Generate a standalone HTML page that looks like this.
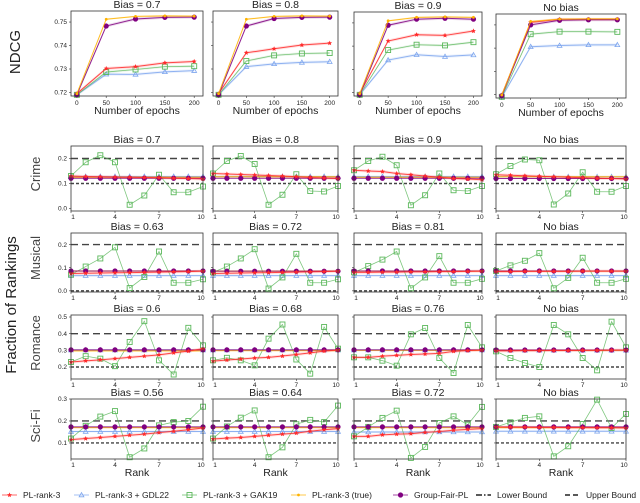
<!DOCTYPE html>
<html><head><meta charset="utf-8"><style>
body{margin:0;background:#fff;}
svg{display:block;font-family:"Liberation Sans","DejaVu Sans",sans-serif;}
</style></head><body>
<svg id="chart" width="640" height="503" viewBox="0 0 640 503" xmlns="http://www.w3.org/2000/svg"></svg>
<script>
// ---------- DATA ----------
const epochs=[0,50,100,150,200];
const ndcgTitles=["Bias = 0.7","Bias = 0.8","Bias = 0.9","No bias"];
const ndcgTicks=[0.72,0.73,0.74,0.75];
const ndcgRed=[[0.7195,0.7302,0.7310,0.7326,0.7332],[0.7195,0.7369,0.7386,0.7402,0.7410],[0.7195,0.7422,0.7449,0.7446,0.7465],[0.7198,0.7511,0.7524,0.7524,0.7524]];
const ndcgBlue=[[0.719,0.7278,0.7277,0.7288,0.7293],[0.719,0.7310,0.7322,0.7328,0.7331],[0.719,0.7340,0.7363,0.7355,0.7362],[0.7188,0.7406,0.7411,0.7414,0.7414]];
const ndcgGreen=[[0.719,0.7287,0.7298,0.7310,0.7312],[0.719,0.7334,0.7358,0.7366,0.7368],[0.719,0.7383,0.7406,0.7403,0.7417],[0.7190,0.7460,0.7471,0.7471,0.7470]];
const ndcgOrange=[[0.7195,0.7512,0.7524,0.7526,0.7525],[0.7195,0.7512,0.7524,0.7526,0.7525],[0.7195,0.7509,0.7524,0.7526,0.7524],[0.7198,0.7515,0.7525,0.7526,0.7526]];
const ndcgPurple=[[0.719,0.7483,0.7513,0.7520,0.7521],[0.719,0.7483,0.7515,0.7520,0.7521],[0.719,0.7490,0.7516,0.7520,0.7516],[0.7195,0.7500,0.7520,0.7522,0.7522]];

const ranks=[1,2,3,4,5,6,7,8,9,10];
const genres=["Crime","Musical","Romance","Sci-Fi"];
const rankTitles=[["Bias = 0.7","Bias = 0.8","Bias = 0.9","No bias"],["Bias = 0.63","Bias = 0.72","Bias = 0.81","No bias"],["Bias = 0.6","Bias = 0.68","Bias = 0.76","No bias"],["Bias = 0.56","Bias = 0.64","Bias = 0.72","No bias"]];
const genreTicks=[[0.0,0.1,0.2],[0.0,0.1,0.2],[0.2,0.3,0.4,0.5],[0.1,0.2,0.3]];
const upperBound=[0.2,0.2,0.4,0.2];
const lowerBound=[0.1,0.0,0.2,0.1];
const greenCrime=[[0.13,0.185,0.213,0.185,0.015,0.052,0.135,0.065,0.065,0.088],[0.14,0.19,0.21,0.178,0.015,0.055,0.137,0.07,0.068,0.09],[0.153,0.19,0.207,0.173,0.013,0.053,0.14,0.073,0.07,0.09],[0.137,0.17,0.196,0.193,0.016,0.06,0.145,0.067,0.067,0.09]];
const greenMusical=[[0.07,0.105,0.14,0.188,0.012,0.06,0.17,0.035,0.035,0.05],[0.08,0.105,0.14,0.18,0.01,0.058,0.16,0.035,0.035,0.05],[0.08,0.107,0.135,0.17,0.011,0.058,0.15,0.035,0.035,0.052],[0.086,0.11,0.13,0.163,0.011,0.056,0.143,0.035,0.035,0.052]];
const greenRomance=[[0.23,0.265,0.25,0.205,0.35,0.475,0.24,0.155,0.435,0.33],[0.24,0.255,0.24,0.21,0.37,0.455,0.245,0.16,0.44,0.31],[0.258,0.258,0.238,0.208,0.396,0.434,0.254,0.164,0.452,0.318],[0.294,0.254,0.224,0.2,0.452,0.396,0.254,0.18,0.472,0.318]];
const greenSciFi=[[0.12,0.178,0.22,0.245,0.035,0.075,0.18,0.195,0.2,0.265],[0.12,0.175,0.215,0.248,0.035,0.08,0.185,0.205,0.195,0.27],[0.13,0.173,0.214,0.247,0.032,0.082,0.191,0.221,0.183,0.264],[0.173,0.194,0.214,0.221,0.039,0.085,0.186,0.297,0.168,0.232]];
const redCrime=[[0.13,0.128,0.127,0.126,0.125,0.124,0.123,0.121,0.12,0.118],[0.14,0.138,0.136,0.134,0.132,0.13,0.127,0.124,0.122,0.12],[0.153,0.15,0.148,0.14,0.135,0.13,0.125,0.12,0.118,0.115],[0.135,0.133,0.131,0.129,0.127,0.125,0.123,0.121,0.12,0.118]];
const redMusical=[[0.075,0.076,0.077,0.078,0.079,0.08,0.081,0.082,0.083,0.085],[0.075,0.076,0.077,0.078,0.079,0.08,0.081,0.082,0.083,0.085],[0.08,0.08,0.081,0.081,0.082,0.082,0.083,0.083,0.084,0.085],[0.083,0.083,0.084,0.084,0.084,0.084,0.085,0.085,0.085,0.085]];
const redRomance=[[0.23,0.237,0.243,0.25,0.258,0.265,0.273,0.285,0.295,0.31],[0.235,0.242,0.248,0.254,0.258,0.266,0.275,0.285,0.295,0.302],[0.258,0.258,0.265,0.27,0.275,0.278,0.282,0.294,0.298,0.302],[0.297,0.297,0.298,0.298,0.299,0.299,0.3,0.3,0.301,0.302]];
const redSciFi=[[0.115,0.12,0.125,0.13,0.135,0.14,0.147,0.153,0.16,0.168],[0.118,0.122,0.125,0.13,0.135,0.14,0.145,0.153,0.16,0.165],[0.13,0.13,0.137,0.14,0.142,0.148,0.152,0.158,0.162,0.165],[0.173,0.172,0.172,0.171,0.171,0.17,0.17,0.169,0.169,0.168]];
const blueLevel=[[0.128,0.128,0.128,0.127],[0.066,0.066,0.066,0.066],[0.302,0.302,0.302,0.3],[0.152,0.152,0.15,0.153]];
const orangeLevel=[[0.125,0.127,0.125,0.127],[0.086,0.085,0.085,0.085],[0.297,0.298,0.3,0.3],[0.17,0.17,0.17,0.17]];
const purpleLevel=[[0.121,0.121,0.121,0.12],[0.086,0.085,0.086,0.086],[0.303,0.303,0.303,0.302],[0.173,0.173,0.173,0.173]];

// ---------- LAYOUT ----------
const C={red:"#ff2a2a",blue:"#7ea6ee",green:"#5cb85c",orange:"#ffb300",purple:"#800080"};
const svg=document.getElementById('chart');
const NS="http://www.w3.org/2000/svg";
function mk(tag,attrs,parent){const e=document.createElementNS(NS,tag);for(const k in attrs)e.setAttribute(k,attrs[k]);(parent||svg).appendChild(e);return e;}
function txt(x,y,s,size,anchor,parent,extra){const t=mk('text',Object.assign({x:x,y:y,'font-size':size,'text-anchor':anchor||'middle',fill:'#222'},extra||{}),parent);t.textContent=s;return t;}
const cols=[[71,203],[213,338],[354,482],[496,626]];
const ndcgRows=[[11,96],[11,96],[12,96],[14,98]];
const rankRows=[[146,211],[233,292],[315,379],[399,459]];
const genreLim=[[-0.01,0.25],[-0.005,0.25],[0.128,0.512],[0.027,0.3]];

function star(g,x,y,r,color){let p=[];for(let i=0;i<10;i++){const a=-Math.PI/2+i*Math.PI/5;const rr=i%2?r*0.45:r;p.push((x+rr*Math.cos(a)).toFixed(1)+','+(y+rr*Math.sin(a)).toFixed(1));}return mk('polygon',{points:p.join(' '),fill:color},g);}
function marker(g,kind,x,y){
  if(kind==='red')return star(g,x,y,2.6,C.red);
  if(kind==='blue')return mk('polygon',{points:`${x},${y-2.4} ${x-2.4},${y+1.8} ${x+2.4},${y+1.8}`,fill:'none',stroke:C.blue,'stroke-width':0.8},g);
  if(kind==='green')return mk('rect',{x:x-2.5,y:y-2.5,width:5,height:5,fill:'none',stroke:C.green,'stroke-width':0.9},g);
  if(kind==='orange')return mk('circle',{cx:x,cy:y,r:1.4,fill:C.orange},g);
  if(kind==='purple')return mk('circle',{cx:x,cy:y,r:2.6,fill:C.purple},g);
}
function series(g,name,xs,ys,X,Y,kind,band){
  const sg=mk('g',{},g);
  
  
  const pts=xs.map((x,i)=>[X(x),Y(ys[i])]);
  if(band){const up=pts.map(p=>p[0]+','+(p[1]-band)).join(' ');const dn=pts.slice().reverse().map(p=>p[0]+','+(p[1]+band)).join(' ');mk('polygon',{points:up+' '+dn,fill:C[kind],opacity:0.15},sg);}
  mk('polyline',{points:pts.map(p=>p.join(',')).join(' '),fill:'none',stroke:C[kind],'stroke-width':kind==='green'?0.8:1,opacity:kind==='green'?0.8:0.85},sg);
  pts.forEach(p=>marker(sg,kind,p[0],p[1]));
}

// ---------- NDCG ROW ----------
for(let c=0;c<4;c++){
  const [x0,x1]=cols[c],[y0,y1]=ndcgRows[c];
  const g=mk('g',{});
  
  
  const X=v=>x0+(v+10)/225*(x1-x0);
  const Y=v=>y1-(v-0.7185)/(0.7547-0.7185)*(y1-y0);
  txt((x0+x1)/2,y0-3,ndcgTitles[c],10.5,'middle',g);
  ndcgTicks.forEach(t=>{const yy=Y(t);mk('line',{x1:x0-2,x2:x0,y1:yy,y2:yy,stroke:'#333','stroke-width':0.6},g);if(c===0)txt(x0-4,yy+2.2,t.toFixed(2),6.5,'end',g);});
  epochs.forEach(e=>{const xx=X(e);mk('line',{x1:xx,x2:xx,y1:y1,y2:y1+2,stroke:'#333','stroke-width':0.6},g);txt(xx,y1+9,String(e),6.5,'middle',g);});
  series(g,'ndcg-gdl22',epochs,ndcgBlue[c],X,Y,'blue',1.5);
  series(g,'ndcg-gak19',epochs,ndcgGreen[c],X,Y,'green',1.2);
  series(g,'ndcg-pl-rank-3',epochs,ndcgRed[c],X,Y,'red',1.5);
  series(g,'ndcg-group-fair-pl',epochs,ndcgPurple[c],X,Y,'purple',1.5);
  series(g,'ndcg-pl-rank-3-true',epochs,ndcgOrange[c],X,Y,'orange',0.8);
  mk('rect',{x:x0,y:y0,width:x1-x0,height:y1-y0,fill:'none',stroke:'#333','stroke-width':0.8},g);
  txt((x0+x1)/2,y1+18,'Number of epochs',10.5,'middle',g);
}

// ---------- RANK GRID ----------
const greens=[greenCrime,greenMusical,greenRomance,greenSciFi];
const reds=[redCrime,redMusical,redRomance,redSciFi];
for(let r=0;r<4;r++)for(let c=0;c<4;c++){
  const [x0,x1]=cols[c],[y0,y1]=rankRows[r],[lo,hi]=genreLim[r];
  const g=mk('g',{});
  
  
  const X=v=>x0+(v-1)/9*(x1-x0);
  const Y=v=>y1-(v-lo)/(hi-lo)*(y1-y0);
  txt((x0+x1)/2,y0-3,rankTitles[r][c],10.5,'middle',g);
  genreTicks[r].forEach(t=>{const yy=Y(t);mk('line',{x1:x0-2,x2:x0,y1:yy,y2:yy,stroke:'#333','stroke-width':0.6},g);if(c===0)txt(x0-4,yy+2.2,t.toFixed(1),6.5,'end',g);});
  [1,4,7,10].forEach(k=>{const xx=X(k);mk('line',{x1:xx,x2:xx,y1:y1,y2:y1+2,stroke:'#333','stroke-width':0.6},g);txt(xx+(k===1?2:k===10?-2:0),y1+8,String(k),6.5,'middle',g);});
  const ub=mk('line',{x1:x0,x2:x1,y1:Y(upperBound[r]),y2:Y(upperBound[r]),stroke:'#444','stroke-width':1.4,'stroke-dasharray':'7,4'},g);
  
  
  const lb=mk('line',{x1:x0,x2:x1,y1:Y(lowerBound[r]),y2:Y(lowerBound[r]),stroke:'#444','stroke-width':1.4,'stroke-dasharray':'3,2'},g);
  
  
  const cg=mk('g',{'clip-path':'none'},g);
  series(cg,'gdl22-line',ranks,ranks.map(()=>blueLevel[r][c]),X,Y,'blue',1);
  series(cg,'gak19-line',ranks,greens[r][c],X,Y,'green',0);
  series(cg,'pl-rank-3-true-line',ranks,ranks.map(()=>orangeLevel[r][c]),X,Y,'orange',1);
  series(cg,'group-fair-pl-line',ranks,ranks.map(()=>purpleLevel[r][c]),X,Y,'purple',0);
  series(cg,'pl-rank-3-line',ranks,reds[r][c],X,Y,'red',1.5);
  mk('rect',{x:x0,y:y0,width:x1-x0,height:y1-y0,fill:'none',stroke:'#333','stroke-width':0.8},g);
  if(r===3)txt((x0+x1)/2,y1+17,'Rank',10.5,'middle',g);
}
// genre labels
const gy=[178,262,347,430];
genres.forEach((gname,i)=>{const t=txt(44,gy[i],gname,13,'middle',svg,{transform:`rotate(-90 40 ${gy[i]})`,fill:'#444'});});
const nd=txt(20,52,'NDCG',15,'middle',svg,{transform:'rotate(-90 20 52)'});


const fr=txt(21,310,'Fraction of Rankings',15,'middle',svg,{transform:'rotate(-90 16 310)'});



// ---------- LEGEND ----------
const legendNames=["PL-rank-3","PL-rank-3 + GDL22","PL-rank-3 + GAK19","PL-rank-3 (true)","Group-Fair-PL","Lower Bound","Upper Bound"];
const legendKinds=["red","blue","green","orange","purple","lower","upper"];
const legendX=[2,74,182,291,393,476,565];
const lg=mk('g',{});


legendNames.forEach((n,i)=>{
  const eg=mk('g',{},lg);
  
  
  const x=legendX[i],y=495,k=legendKinds[i];
  if(k==='lower'){mk('line',{x1:x,x2:x+15,y1:y,y2:y,stroke:'#222','stroke-width':1.4,'stroke-dasharray':'6,2,1.5,2'},eg);}
  else if(k==='upper'){mk('line',{x1:x,x2:x+15,y1:y,y2:y,stroke:'#222','stroke-width':1.4,'stroke-dasharray':'5,3'},eg);}
  else{mk('line',{x1:x,x2:x+15,y1:y,y2:y,stroke:C[k],'stroke-width':1,opacity:0.7},eg);marker(eg,k,x+7.5,y);}
  txt(x+21,y+3,n,8.5,'start',eg);
});
</script>
</body></html>
